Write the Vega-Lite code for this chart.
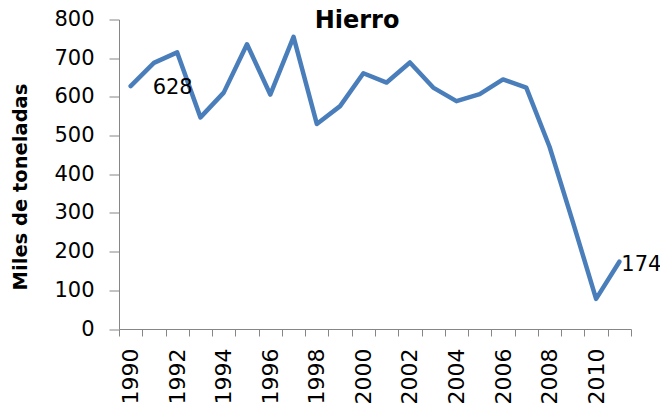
{
  "$schema": "https://vega.github.io/schema/vega-lite/v6.json",
  "width": 512,
  "height": 309.5,
  "autosize": {"type": "none"},
  "padding": {"left": 119, "top": 19.5, "right": 29, "bottom": 75},
  "background": "white",
  "view": {"stroke": null},
  "title": {
    "text": "Hierro",
    "font": "DejaVu Sans",
    "fontSize": 24,
    "fontWeight": "bold",
    "color": "#000000",
    "anchor": "middle",
    "dx": -18,
    "offset": -24
  },
  "data": {
    "values": [
      {"year": 1990, "value": 628},
      {"year": 1991, "value": 688},
      {"year": 1992, "value": 715},
      {"year": 1993, "value": 547},
      {"year": 1994, "value": 611},
      {"year": 1995, "value": 736},
      {"year": 1996, "value": 606},
      {"year": 1997, "value": 755},
      {"year": 1998, "value": 530},
      {"year": 1999, "value": 576},
      {"year": 2000, "value": 661},
      {"year": 2001, "value": 637},
      {"year": 2002, "value": 689},
      {"year": 2003, "value": 624},
      {"year": 2004, "value": 589},
      {"year": 2005, "value": 607},
      {"year": 2006, "value": 645},
      {"year": 2007, "value": 624},
      {"year": 2008, "value": 471},
      {"year": 2009, "value": 277},
      {"year": 2010, "value": 78},
      {"year": 2011, "value": 174}
    ]
  },
  "resolve": {"axis": {"x": "independent"}},
  "encoding": {
    "y": {
      "field": "value", "type": "quantitative",
      "scale": {"domain": [0, 800], "nice": false},
      "axis": {
        "values": [0,100,200,300,400,500,600,700,800],
        "grid": false,
        "tickSize": 10,
        "tickColor": "#868686",
        "domainColor": "#868686",
        "labelFont": "DejaVu Sans",
        "labelFontSize": 21,
        "labelColor": "#000000",
        "labelPadding": 15,
        "labelFlush": false,
        "labelOverlap": false,
        "labelBound": false,
        "title": "Miles de toneladas",
        "titleFont": "DejaVu Sans",
        "titleFontSize": 19.5,
        "titleFontWeight": "bold",
        "titleColor": "#000000",
        "titleAngle": 270,
        "titleAlign": "center",
        "titleBaseline": "middle",
        "titleX": -99,
        "titleY": 167
      }
    }
  },
  "layer": [
    {
      "mark": {"type": "line", "color": "#4A7EBB", "strokeWidth": 4.5, "strokeJoin": "round", "strokeCap": "round"},
      "encoding": {
        "x": {
          "field": "year", "type": "quantitative",
          "scale": {"domain": [1989.5, 2011.5], "nice": false, "zero": false},
          "axis": {
            "orient": "bottom",
            "title": null,
            "grid": false,
            "labels": false,
            "values": [1989.5,1990.5,1991.5,1992.5,1993.5,1994.5,1995.5,1996.5,1997.5,1998.5,1999.5,2000.5,2001.5,2002.5,2003.5,2004.5,2005.5,2006.5,2007.5,2008.5,2009.5,2010.5,2011.5],
            "ticks": true,
            "tickSize": 7,
            "tickColor": "#868686",
            "domainColor": "#868686",
            "tickWidth": 1,
            "domainWidth": 1
          }
        }
      }
    },
    {
      "transform": [{"filter": "datum.year == 1990"}],
      "mark": {"type": "text", "align": "left", "baseline": "middle", "dx": 22, "dy": 2, "font": "DejaVu Sans", "fontSize": 21, "color": "#000000"},
      "encoding": {
        "x": {
          "field": "year", "type": "quantitative",
          "axis": {
            "orient": "bottom",
            "title": null,
            "grid": false,
            "domain": false,
            "ticks": false,
            "tickSize": 0,
            "values": [1990,1992,1994,1996,1998,2000,2002,2004,2006,2008,2010],
            "labelAngle": 270,
            "labelPadding": 19,
            "labelFont": "DejaVu Sans",
            "labelFontSize": 22,
            "labelColor": "#000000",
            "labelFlush": false,
            "labelOverlap": false,
            "format": "d"
          }
        },
        "text": {"field": "value", "type": "quantitative", "format": "d"}
      }
    },
    {
      "transform": [{"filter": "datum.year == 2011"}],
      "mark": {"type": "text", "align": "left", "baseline": "middle", "dx": 2, "dy": 3, "font": "DejaVu Sans", "fontSize": 21, "color": "#000000"},
      "encoding": {
        "x": {"field": "year", "type": "quantitative", "axis": null},
        "text": {"field": "value", "type": "quantitative", "format": "d"}
      }
    }
  ]
}
